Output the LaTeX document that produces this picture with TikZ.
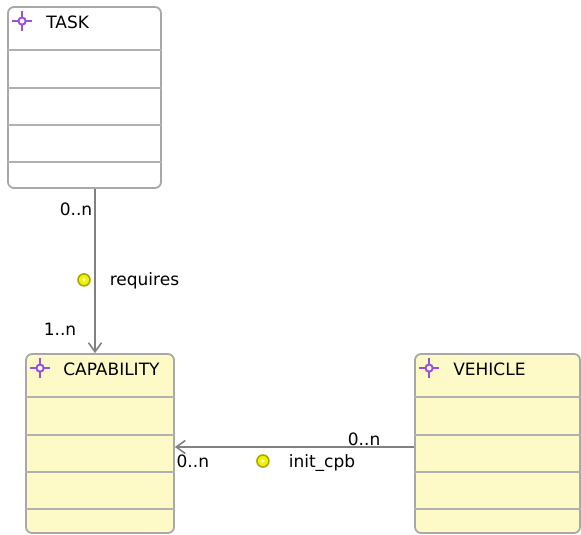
\documentclass[tikz,border=0pt]{standalone}
\usepackage{fontspec}
\setmainfont{DejaVu Sans}
\usetikzlibrary{arrows.meta,calc}
\definecolor{boxgray}{HTML}{A8A8A8}
\definecolor{classfill}{HTML}{FEFAC8}
\definecolor{linkgray}{HTML}{808080}
\definecolor{iconpurple}{HTML}{9B51D6}
\definecolor{dotyellow}{HTML}{F2F200}
\definecolor{dotrim}{HTML}{A8A800}
\tikzstyle{classbox} = [rectangle, draw=boxgray, line width=1.8pt,
    rounded corners=6pt, inner sep=0pt]
\tikzstyle{title} = [anchor=base west, inner sep=0pt]
\tikzstyle{mult} = [inner sep=0pt]
\tikzstyle{assoc} = [draw=linkgray, line width=1.6pt]
\tikzstyle{sepline} = [draw=boxgray!90, line width=2pt]
\tikzstyle{roledot} = [circle, draw=dotrim, fill=dotyellow, line width=1.6pt,
    minimum size=12pt, inner sep=0pt,
    path picture={\fill[white] (path picture bounding box.center) circle (1.8pt);}]

\newcommand{\classicon}[1]{%
  \draw[iconpurple, line width=2pt] (#1) +(-10pt,0) -- +(-4pt,0) +(4pt,0) -- +(10pt,0)
        +(0,-10pt) -- +(0,-4pt) +(0,4pt) -- +(0,10pt);
  \draw[iconpurple, line width=2pt, fill=white] (#1) circle (3.6pt);}

\begin{document}
\begin{tikzpicture}[x=1pt,y=-1pt,>={Straight Barb[length=9pt,width=13pt]},
                    font=\fontsize{17}{20}\selectfont]
  \useasboundingbox (0,0) rectangle (581,535);

  \node[classbox, fill=white,     minimum width=153pt, minimum height=181pt] (task) at (84.5,97.5)  {};
  \node[classbox, fill=classfill, minimum width=148pt, minimum height=179pt] (cap)  at (100,443.5)  {};
  \node[classbox, fill=classfill, minimum width=165pt, minimum height=179pt] (veh)  at (497.5,443.5) {};

  % compartments and icons
  \foreach \cls in {task,cap,veh}{
    \foreach \d in {44,82,119,156}
      \draw[sepline] ([yshift=-\d pt]\cls.north west) -- ([yshift=-\d pt]\cls.north east);
    \classicon{$(\cls.north west)+(15pt,-15pt)$}
  }

  \node[title] (tasktitle) at ([xshift=39pt,yshift=-22pt]task.north west) {TASK};
  \node[title] (captitle)  at ([xshift=38pt,yshift=-22pt]cap.north west)  {CAPABILITY};
  \node[title] (vehtitle)  at ([xshift=39pt,yshift=-22pt]veh.north west)  {VEHICLE};

  \draw[assoc,->] ([xshift=10.5pt]task.south) -- ([xshift=10.5pt]task.south |- cap.north)
    node[mult, pos=0.163, anchor=base east, xshift=-2pt]  (taskmult) {0..n}
    node[roledot, pos=0.554, xshift=-11pt]                 (reqdot)   {}
    node[mult, pos=0.59, anchor=base west, xshift=14pt]    (reqname)  {requires}
    node[mult, pos=0.892, anchor=base east, xshift=-18pt]  (capmult)  {1..n};

  \draw[assoc,->] ([yshift=-3.5pt]veh.west) -- ([yshift=-3.5pt]veh.west -| cap.east)
    node[mult, pos=0.138, anchor=base east, yshift=2pt]    (vehmult)  {0..n}
    node[roledot, pos=0.632, yshift=-14pt]                 (initdot)  {}
    node[mult, pos=0.527, anchor=base west, yshift=-20pt]  (initname) {init\_cpb}
    node[mult, pos=0.996, anchor=base west, yshift=-20pt]  (capmult2) {0..n};
\end{tikzpicture}
\end{document}
